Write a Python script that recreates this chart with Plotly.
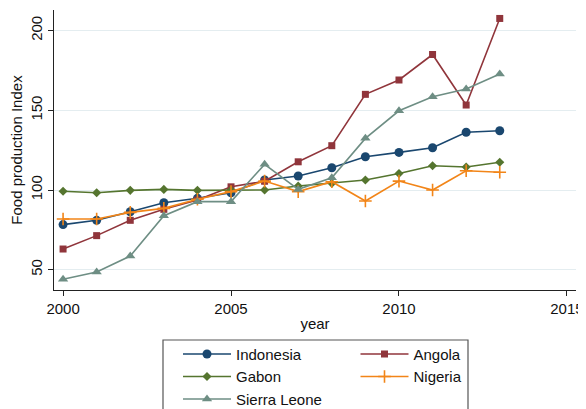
import plotly.graph_objects as go

years = list(range(2000, 2014))

indonesia = [78.3, 81.0, 86.4, 92.0, 94.8, 98.3, 106.3, 108.8, 114.0, 120.9, 123.6, 126.5, 136.2, 137.2]
angola = [63.0, 71.4, 81.0, 87.9, 93.7, 102.0, 105.5, 117.7, 127.8, 160.0, 169.0, 185.0, 153.3, 207.6]
gabon = [99.2, 98.3, 99.8, 100.4, 99.8, 100.0, 100.0, 102.5, 104.2, 106.3, 110.4, 115.2, 114.4, 117.4]
nigeria = [81.8, 81.8, 86.0, 88.5, 94.2, 99.0, 105.6, 99.0, 105.2, 93.1, 105.6, 100.0, 112.1, 111.1]
sierra_leone = [44.0, 48.6, 58.6, 83.9, 92.7, 92.7, 116.1, 100.4, 107.7, 132.4, 149.7, 158.5, 163.3, 172.7]

x_ticks = [2000, 2005, 2010, 2015]
y_ticks = [50, 100, 150, 200]

FONT = "Liberation Sans, Arial, sans-serif"

# The page body has an 8px default margin, so the figure is sized and its
# margins set so that the plot area lands where the reference has it.
W, H = 578, 401
L, R, T, B = 46, 10, 2, 119
PW, PH = W - L - R, H - T - B


def px_x(page_x):
    return (page_x - 8 - L) / PW


def px_y(page_y):
    return (H - B - (page_y - 8)) / PH


series = [
    ("Indonesia", indonesia, "#1a476f", "circle", 9, "legend"),
    ("Angola", angola, "#90353b", "square", 7, "legend2"),
    ("Gabon", gabon, "#55752f", "diamond", 7, "legend"),
    ("Nigeria", nigeria, "#f28518", "cross-thin-open", 9, "legend2"),
    ("Sierra Leone", sierra_leone, "#6e8e84", "triangle-up", 9, "legend"),
]

fig = go.Figure()
for name, vals, color, sym, size, lg in series:
    marker = dict(symbol=sym, size=size, color=color)
    if sym == "cross-thin-open":
        marker["line"] = dict(color=color, width=1.6)
    fig.add_trace(go.Scatter(
        x=years, y=vals, name=name, mode="lines+markers",
        line=dict(color=color, width=1.6),
        marker=marker, legend=lg,
    ))

legend_style = dict(yanchor="top", xanchor="left", orientation="v", itemwidth=48,
                    bgcolor="rgba(0,0,0,0)", borderwidth=0,
                    font=dict(size=15, family=FONT, color="#111"))

fig.update_layout(
    width=W, height=H,
    margin=dict(l=L, r=R, t=T, b=B, autoexpand=False),
    paper_bgcolor="white", plot_bgcolor="white",
    font=dict(family=FONT, size=15, color="#111"),
    showlegend=True,
    legend=dict(x=px_x(178), y=px_y(337.75), **legend_style),
    legend2=dict(x=px_x(355.5), y=px_y(337.75), **legend_style),
    shapes=[dict(type="rect", xref="paper", yref="paper",
                 x0=px_x(163), x1=px_x(468),
                 y0=px_y(440), y1=px_y(340),
                 line=dict(color="#555", width=1.2), fillcolor="rgba(0,0,0,0)",
                 layer="below")],
)

fig.update_xaxes(
    range=[1999.73, 2015.27], tickvals=x_ticks, ticks="outside", ticklen=5,
    tickcolor="#222", showline=True, linecolor="#222", linewidth=1.2,
    showgrid=False, zeroline=False, mirror=False,
    tickfont=dict(size=15, family=FONT, color="#111"),
    title=dict(text="year", standoff=2, font=dict(size=15, family=FONT, color="#111")),
)
fig.update_yaxes(
    range=[37.3, 212.9], tickvals=y_ticks, ticks="outside", ticklen=5,
    tickcolor="#222", showline=True, linecolor="#222", linewidth=1.2,
    showgrid=True, gridcolor="#e4edf0", gridwidth=1, zeroline=False,
    tickangle=-90,
    tickfont=dict(size=15, family=FONT, color="#111"),
    title=dict(text="Food production Index", standoff=2,
               font=dict(size=15, family=FONT, color="#111")),
)

fig.write_html("out.html")
